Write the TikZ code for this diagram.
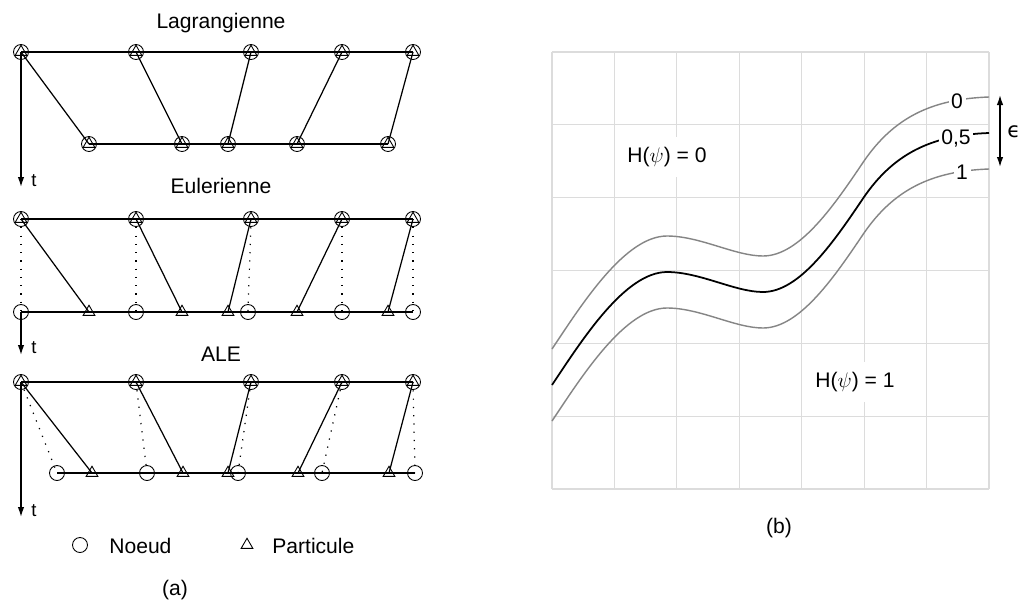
\documentclass[tikz,border=0pt]{standalone}
\usepackage{fontspec}
\setmainfont{Liberation Sans}
\newfontfamily\dejavu{DejaVu Sans}
\usepackage{xcolor}
\usepackage{tikz}
\usetikzlibrary{shapes.geometric, arrows.meta}
\usetikzlibrary{calc,positioning}

\definecolor{rooster}{HTML}{DCDCDC}
\definecolor{grijs}{HTML}{858585}

\tikzset{
  noeud/.style={circle, draw, line width=0.5pt, minimum size=0.3cm, inner sep=0pt},
  particule/.style={regular polygon, regular polygon sides=3, draw, line width=0.5pt, minimum size=0.27cm, inner sep=0pt},
  ligne/.style={line width=1.1pt},
  trajet/.style={line width=0.7pt},
  pointille/.style={line width=0.7pt, dash pattern=on 0.7pt off 4pt},
  taxe/.style={line width=0.8pt, -{Latex[length=2mm,width=1.3mm]}},
  titre/.style={font=\fontsize{12}{14}\selectfont},
  petit/.style={font=\fontsize{10.5}{12}\selectfont},
  etiq/.style={fill=white, inner xsep=1.5pt, inner ysep=1pt, font=\fontsize{12}{14}\selectfont},
  zone/.style={fill=white, inner xsep=3pt, inner ysep=6pt, font=\fontsize{12}{14}\selectfont},
}

\begin{document}
\begin{tikzpicture}[x=0.02cm, y=-0.02cm]

    \fill[white] (0,0) rectangle (1021,609);
    \useasboundingbox (0,0) rectangle (1021,609);

    % Lagrangienne
    \node[titre, anchor=base] (tlag) at (221,28) {Lagrangienne};
    \foreach \x [count=\i] in {21,136,251,342,413} {
        \node[noeud] (la\i) at (\x,52) {};
        \node[particule] (lap\i) at (\x,52) {};
    }
    \foreach \x [count=\i] in {89,182,228,297,388} {
        \node[noeud] (lb\i) at (\x,144) {};
        \node[particule] (lbp\i) at (\x,144) {};
    }
    \draw[ligne] (la1.center) -- (la5.center);
    \draw[trajet] (lb1.center) -- (lb5.center);
    \foreach \i in {1,...,5}
        \draw[trajet] (la\i.center) -- (lb\i.center);
    \coordinate (lagt) at (21,187);
    \draw[taxe] (la1.center) -- (lagt);
    \node[petit, anchor=base west, inner sep=0pt] (lagtl) at (31,186) {t};

    % Eulerienne
    \node[titre, anchor=base] (teul) at (221,193) {Eulerienne};
    \foreach \x [count=\i] in {21,136,251,342,413} {
        \node[noeud] (ea\i) at (\x,219) {};
        \node[particule] (eap\i) at (\x,219) {};
    }
    \foreach \x [count=\i] in {21,136,248,342,413}
        \node[noeud] (eb\i) at (\x,312) {};
    \foreach \x [count=\i] in {89,182,228,297,388}
        \node[particule] (ep\i) at (\x,312) {};
    \draw[ligne] (ea1.center) -- (ea5.center);
    \draw[ligne] (eb1.center) -- (eb5.center);
    \foreach \i in {1,...,5} {
        \draw[pointille] (ea\i.center) -- (eb\i.center);
        \draw[trajet] (ea\i.center) -- (ep\i.center);
    }
    \coordinate (eult) at (21,355);
    \draw[taxe] (eb1.center) -- (eult);
    \node[petit, anchor=base west, inner sep=0pt] (eultl) at (31,353) {t};

    % ALE
    \node[titre, anchor=base] (tale) at (221,361) {ALE};
    \foreach \x [count=\i] in {21,136,251,342,413} {
        \node[noeud] (aa\i) at (\x,382) {};
        \node[particule] (aap\i) at (\x,382) {};
    }
    \foreach \x [count=\i] in {57,147,238,322,415}
        \node[noeud] (ab\i) at (\x,473) {};
    \foreach \x [count=\i] in {92,183,228,298,389}
        \node[particule] (ap\i) at (\x,473) {};
    \draw[ligne] (aa1.center) -- (aa5.center);
    \draw[trajet] (ab1.center) -- (ab5.center);
    \foreach \i in {1,...,5} {
        \draw[pointille] (aa\i.center) -- (ab\i.center);
        \draw[trajet] (aa\i.center) -- (ap\i.center);
    }
    \coordinate (alet) at (21,517);
    \draw[taxe] (aa1.center) -- (alet);
    \node[petit, anchor=base west, inner sep=0pt] (aletl) at (31,516) {t};

    % Legende
    \node[noeud] (lgn) at (80,545) {};
    \node[titre, anchor=base west, inner sep=0pt] (lgnt) at (109,553) {Noeud};
    \node[particule] (lgp) at (247,545) {};
    \node[titre, anchor=base west, inner sep=0pt] (lgpt) at (272,553) {Particule};
    \node[titre] (capa) at (175,590) {(a)};

    % Rooster
    \foreach \i in {0,...,7}
        \draw[rooster, line width=0.7pt] ({552+62.43*\i},52) -- ({552+62.43*\i},489);
    \foreach \j in {0,...,6}
        \draw[rooster, line width=0.7pt] (552,{52+72.83*\j}) -- (989,{52+72.83*\j});

    % Courbes
    \foreach \dy/\col/\lw in {-36/grijs/0.8pt, 36/grijs/0.8pt, 0/black/1pt}
        \draw[\col, line width=\lw, shift={(0,\dy)}]
          (552,385) .. controls (582,340) and (625,272) .. (667,272)
          .. controls (700,272) and (735,292) .. (763,292)
          .. controls (800,292) and (835,240) .. (864,197)
          .. controls (893,155) and (930,135) .. (989,133);

    \node[etiq] (c0) at (957,101) {0};
    \node[etiq] (c05) at (956,138) {0,5};
    \node[etiq] (c1) at (962,172) {1};

    \node[zone] (h0) at (667,157) {H($\psi$) = 0};
    \node[zone] (h1) at (855,382) {H($\psi$) = 1};

    % Epaisseur
    \coordinate (eh) at (1000,95);
    \coordinate (eb) at (1000,167);
    \draw[line width=0.8pt, {Latex[length=2mm,width=1.3mm]}-{Latex[length=2mm,width=1.3mm]}] (eh) -- (eb);
    \node[titre, anchor=west, inner sep=0pt] (eps) at (1007,132) {\dejavu ϵ};

    \node[titre] (capb) at (779,528) {(b)};
\end{tikzpicture}
\end{document}
